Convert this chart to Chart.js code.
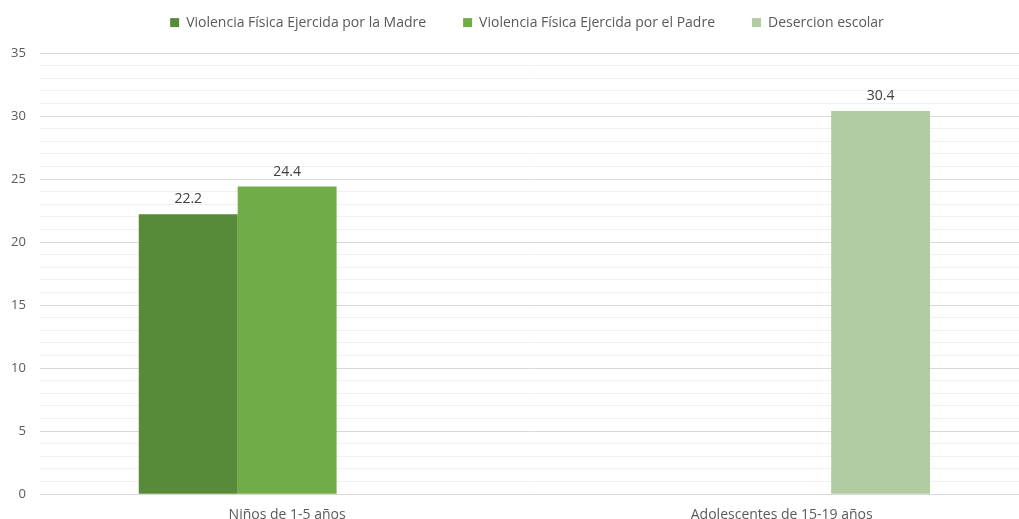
<!DOCTYPE html>
<html>
<head>
<meta charset="utf-8">
<script src="https://cdn.jsdelivr.net/npm/chart.js@4.4.1/dist/chart.umd.min.js"></script>
<style>
  html, body { margin: 0; padding: 0; background: #ffffff; overflow: hidden; }
  #wrap { width: 1030px; height: 519px; }
</style>
</head>
<body>
<div id="wrap"><canvas id="chart" width="1030" height="519"></canvas></div>
<script>
// Categories and series
const categories = ['Niños de 1-5 años', 'Adolescentes de 15-19 años'];
const seriesNames = [
  'Violencia Física Ejercida por la Madre',
  'Violencia Física Ejercida por el Padre',
  'Desercion escolar'
];
const madreValues = [22.2, null];
const padreValues = [24.4, null];
const desercionValues = [null, 30.4];
const yTicksMajor = [0, 5, 10, 15, 20, 25, 30, 35];

const FONT = '"Open Sans", "Noto Sans", sans-serif';
const TEXT_COLOR = '#595959';
const LEGEND_GAP = 37;          // horizontal space between legend entries
const LEGEND_HEIGHT = 53;       // space reserved above the plot
const LEGEND_CENTER_X = 527;    // legend row centred here
const LEGEND_CENTER_Y = 24;

// Keeps the legend row compact and centred over the plot
const legendPlacement = {
  id: 'legendPlacement',
  beforeLayout(chart) {
    const lg = chart.legend;
    if (lg && !lg._compactFit) {
      const origFit = lg.fit.bind(lg);
      lg.fit = function () {
        origFit();
        this.height = LEGEND_HEIGHT;
      };
      lg._compactFit = true;
    }
  },
  afterLayout(chart) {
    const lg = chart.legend;
    if (!lg) return;
    const curCenter = lg.left + (lg.right - lg.left) / 2;
    const dx = LEGEND_CENTER_X - curCenter;
    const fontSize = lg.options.labels.font.size;
    const dy = LEGEND_CENTER_Y - (lg.top + LEGEND_GAP + fontSize * 0.6);
    lg.left += dx; lg.right += dx;
    lg.top += dy;
  }
};

// Writes each bar's value just above it
const valueLabels = {
  id: 'valueLabels',
  afterDatasetsDraw(chart) {
    const ctx = chart.ctx;
    ctx.save();
    ctx.font = '14px ' + FONT;
    ctx.fillStyle = '#404040';
    ctx.textAlign = 'center';
    ctx.textBaseline = 'middle';
    chart.data.datasets.forEach((ds, i) => {
      const meta = chart.getDatasetMeta(i);
      meta.data.forEach((bar, j) => {
        const v = ds.data[j];
        if (v === null || v === undefined) return;
        ctx.fillText(v.toFixed(1), bar.x, bar.y - 15);
      });
    });
    ctx.restore();
  }
};

new Chart(document.getElementById('chart'), {
  type: 'bar',
  data: {
    labels: categories,
    datasets: [
      { label: seriesNames[0], data: madreValues, backgroundColor: '#588b39' },
      { label: seriesNames[1], data: padreValues, backgroundColor: '#70ac47' },
      { label: seriesNames[2], data: desercionValues, backgroundColor: '#b0cca0' }
    ]
  },
  options: {
    responsive: false,
    animation: false,
    events: [],
    layout: { padding: { left: -3, right: 1, top: 0, bottom: -16 } },
    datasets: {
      bar: { categoryPercentage: 0.6, barPercentage: 1.0, skipNull: false }
    },
    plugins: {
      legend: {
        position: 'top',
        labels: {
          font: { family: FONT, size: 14 },
          color: TEXT_COLOR,
          boxWidth: 9,
          boxHeight: 9,
          padding: LEGEND_GAP
        }
      },
      tooltip: { enabled: false }
    },
    scales: {
      x: {
        grid: { display: false, drawTicks: false },
        border: { display: false },
        ticks: { font: { family: FONT, size: 14 }, color: TEXT_COLOR, padding: 12 }
      },
      y: {
        min: 0,
        max: 35,
        grid: {
          drawTicks: false,
          color: (c) => (yTicksMajor.includes(c.tick.value) ? '#d9d9d9' : '#f0f0f0'),
          lineWidth: 1
        },
        border: { display: false },
        ticks: {
          stepSize: 1,
          autoSkip: false,
          padding: 14,
          font: { family: FONT, size: 13 },
          color: TEXT_COLOR,
          callback: (v) => (yTicksMajor.includes(v) ? String(v) : '')
        }
      }
    }
  },
  plugins: [legendPlacement, valueLabels]
});
</script>
</body>
</html>
